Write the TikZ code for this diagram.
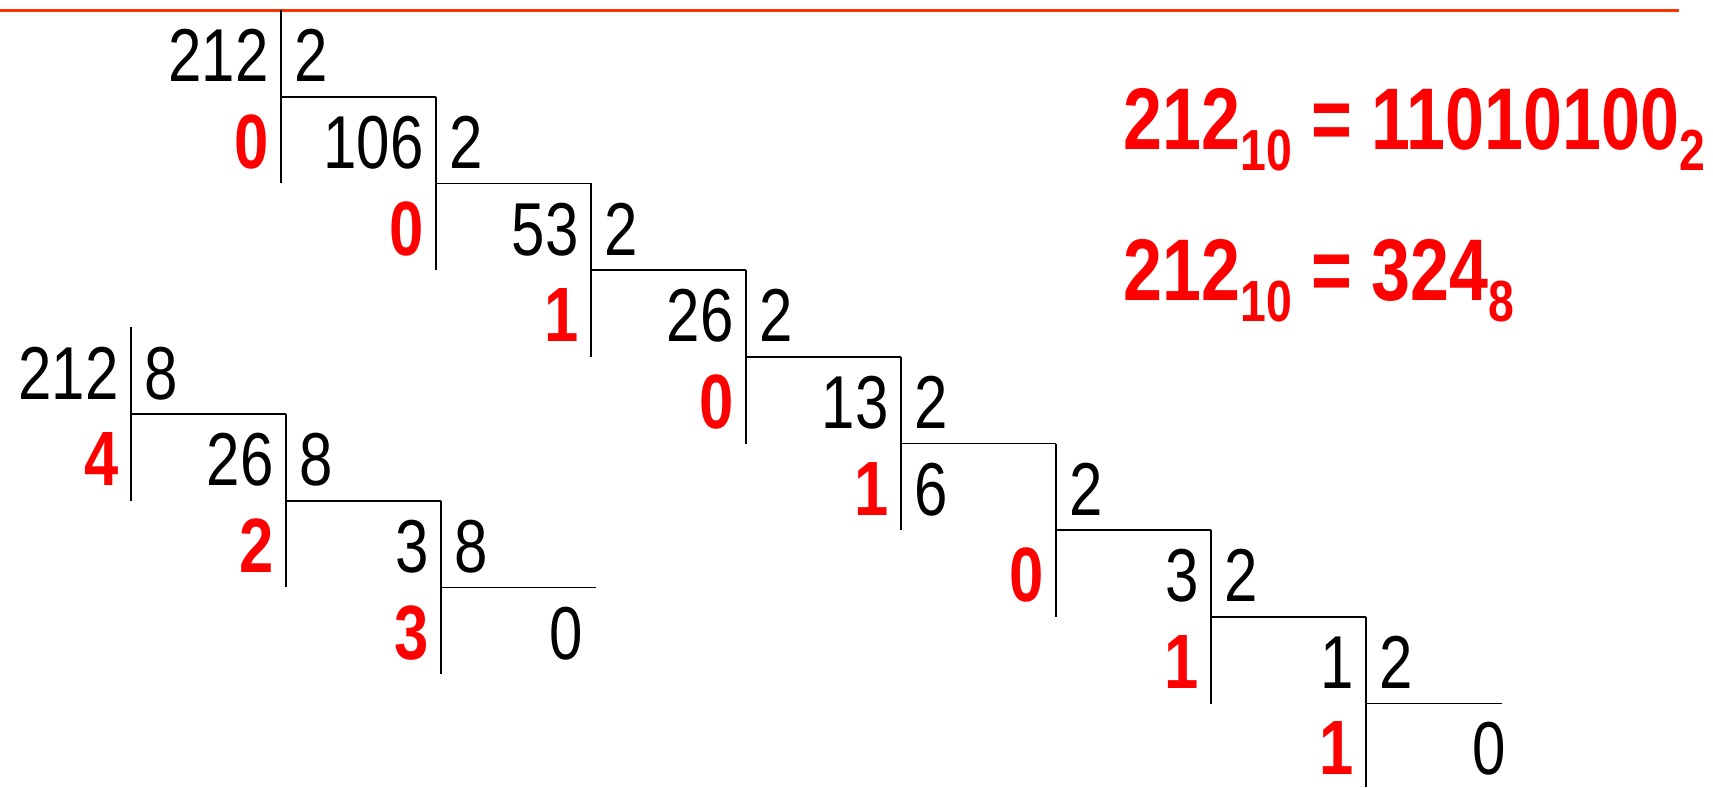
\documentclass[tikz,border=0pt]{standalone}
\usepackage{fontspec}
\newfontfamily\nar{Liberation Sans}[FakeStretch=0.8]
\definecolor{topline}{RGB}{255,51,0}
\newcommand\basesub[1]{\raisebox{-10.5pt}{\fontsize{29}{30}\selectfont #1}}
\begin{document}
\begin{tikzpicture}[x=0.5pt,y=-0.5pt,
  num/.style={inner sep=0pt, text=black, font=\nar\fontsize{37.5}{40}\selectfont},
  rem/.style={inner sep=0pt, text=red, font=\nar\bfseries\fontsize{38.5}{40}\selectfont},
  bigeq/.style={inner sep=0pt, text=red, font=\nar\bfseries\fontsize{43.75}{46}\selectfont},
  ln/.style={line width=0.85pt, draw=black}]
\useasboundingbox (0,0) rectangle (1713,787);
% top rule
\draw[topline, line width=1.5pt] (0,10.5) -- (1679,10.5);

% ---------- division by 2 ----------
% dividends (right aligned to their bar)
\foreach \i/\t in {0/212,1/106,2/53,3/26,4/13,6/3,7/1}
  \node[num, anchor=base east] (bd\i) at ({281+155*\i-12},{81.7+86.7*\i}) {\t};
\node[num, anchor=base west] (bd5) at ({281+155*4+13},{81.7+86.7*5}) {6};
\node[num, anchor=base east] (bd8) at (1506,{80.5+86.7*8}) {0};
% divisors
\foreach \i in {0,...,7}
  \node[num, anchor=base west] (bs\i) at ({281+155*\i+13},{81.7+86.7*\i}) {2};
% remainders
\foreach \i/\r in {0/0,1/0,2/1,3/0,4/1,5/0,6/1}
  \node[rem, anchor=base east] (br\i) at ({281+155*\i-12},{81.7+86.7*(\i+1)}) {\r};
\node[rem, anchor=base east] (br7) at ({281+155*7-12},{80.5+86.7*8}) {1};
% bars
\draw[ln] (281,10) -- (281,{96.7+86.7});
\foreach \i in {1,...,6}
  \draw[ln] ({281+155*\i},{96.7+86.7*(\i-1)}) -- ({281+155*\i},{96.7+86.7*(\i+1)});
\draw[ln] ({281+155*7},{96.7+86.7*6}) -- ({281+155*7},787);
\foreach \i in {0,...,6}
  \draw[ln] ({281+155*\i},{96.7+86.7*\i}) -- ({281+155*(\i+1)},{96.7+86.7*\i});
\draw[ln] ({281+155*7},{96.7+86.7*7}) -- (1502,{96.7+86.7*7});

% ---------- division by 8 ----------
\node[num, anchor=base east] (od0) at ({131-12},399) {212};
\node[num, anchor=base east] (od1) at ({131+155-12},{399+86.7}) {26};
\node[num, anchor=base east] (od2) at ({131+310-12},{399+2*86.7}) {3};
\node[num, anchor=base east] (od3) at (583,{399+3*86.7}) {0};
\foreach \j in {0,1,2}
  \node[num, anchor=base west] (os\j) at ({131+155*\j+13},{399+86.7*\j}) {8};
\foreach \j/\r in {0/4,1/2,2/3}
  \node[rem, anchor=base east] (or\j) at ({131+155*\j-12},{399+86.7*(\j+1)}) {\r};
\draw[ln] (131,327.3) -- (131,{414+86.7});
\draw[ln] (286,414) -- (286,{414+2*86.7});
\draw[ln] (441,{414+86.7}) -- (441,{414+3*86.7});
\draw[ln] (131,414) -- (286,414);
\draw[ln] (286,{414+86.7}) -- (441,{414+86.7});
\draw[ln] (441,{414+2*86.7}) -- (596,{414+2*86.7});

% ---------- results ----------
\node[bigeq, anchor=base west] (resA) at (1123,149.3) {212\basesub{10} = 11010100\basesub{2}};
\node[bigeq, anchor=base west] (resB) at (1123,300) {212\basesub{10} = 324\basesub{8}};
\end{tikzpicture}
\end{document}
